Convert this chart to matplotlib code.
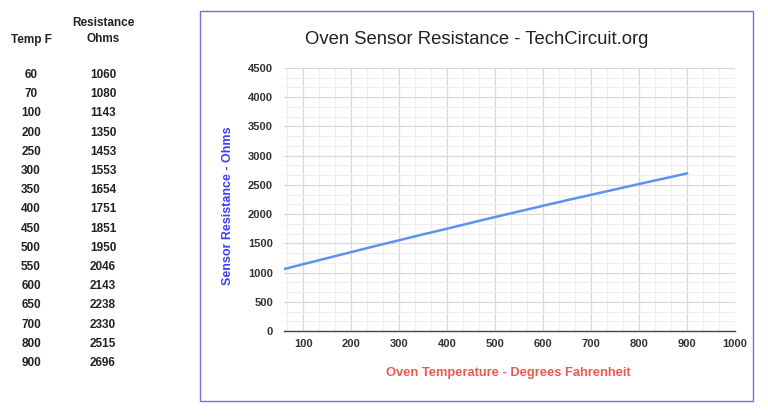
import matplotlib.pyplot as plt
from matplotlib.ticker import MultipleLocator
from matplotlib.patches import Rectangle

plt.rcParams['font.family'] = ['Liberation Sans', 'DejaVu Sans']

temps = [60, 70, 100, 200, 250, 300, 350, 400, 450, 500, 550, 600, 650, 700, 800, 900]
ohms = [1060, 1080, 1143, 1350, 1453, 1553, 1654, 1751, 1851, 1950, 2046, 2143, 2238, 2330, 2515, 2696]
x_ticks = [100, 200, 300, 400, 500, 600, 700, 800, 900, 1000]
y_ticks = [0, 500, 1000, 1500, 2000, 2500, 3000, 3500, 4000, 4500]

W, H = 768, 417
fig = plt.figure(figsize=(W / 100, H / 100), dpi=100)

# chart frame
fig.patches.append(Rectangle((200 / W, 1 - 401 / H), 553 / W, 390 / H,
                             transform=fig.transFigure, fill=False,
                             edgecolor='#6f6fe6', linewidth=1.0))

# data table on the left
fig.text(31 / W, 1 - 40 / H, 'Temp F', ha='center', va='center',
         fontsize=8.5, fontweight='bold', color='#222222')
fig.text(103 / W, 1 - 23 / H, 'Resistance', ha='center', va='center',
         fontsize=8.5, fontweight='bold', color='#222222')
fig.text(103 / W, 1 - 39 / H, 'Ohms', ha='center', va='center',
         fontsize=8.5, fontweight='bold', color='#222222')
for i, (t, r) in enumerate(zip(temps, ohms)):
    y = 1 - (75 + i * 19.2) / H
    fig.text(31 / W, y, str(t), ha='center', va='center',
             fontsize=8.5, fontweight='bold', color='#222222')
    fig.text(103 / W, y, str(r), ha='center', va='center',
             fontsize=8.5, fontweight='bold', color='#222222')

ax = fig.add_axes([284 / W, 1 - 331 / H, (735 - 284) / W, (331 - 68) / H])
ax.plot(temps, ohms, color='#5b93f2', linewidth=1.8)
ax.set_xlim(60, 1000)
ax.set_ylim(0, 4500)
ax.set_xticks(x_ticks)
ax.set_yticks(y_ticks)
ax.xaxis.set_minor_locator(MultipleLocator(100 / 3))
ax.yaxis.set_minor_locator(MultipleLocator(500 / 3))
ax.grid(which='major', color='#d9d9d9', linewidth=0.9)
ax.grid(which='minor', color='#eeeeee', linewidth=0.8)
ax.set_axisbelow(True)
for s in ['top', 'right', 'left']:
    ax.spines[s].set_visible(False)
ax.spines['bottom'].set_color('#444444')
ax.spines['bottom'].set_linewidth(1.0)
ax.tick_params(which='both', length=0)
ax.tick_params(axis='x', pad=6)
ax.tick_params(axis='y', pad=8)
for lab in ax.get_xticklabels() + ax.get_yticklabels():
    lab.set_fontsize(8)
    lab.set_fontweight('bold')
    lab.set_color('#333333')

fig.text(477 / W, 1 - 40 / H, 'Oven Sensor Resistance - TechCircuit.org',
         ha='center', va='center', fontsize=13.3, color='#222222')
fig.text(228 / W, 1 - 206 / H, 'Sensor Resistance - Ohms', rotation=90,
         ha='center', va='center', fontsize=9, fontweight='bold', color='#3f3ff5')
fig.text(508 / W, 1 - 373 / H, 'Oven Temperature - Degrees Fahrenheit',
         ha='center', va='center', fontsize=9.3, fontweight='bold', color='#ea5a4f')

fig.savefig('out.png', dpi=100)
